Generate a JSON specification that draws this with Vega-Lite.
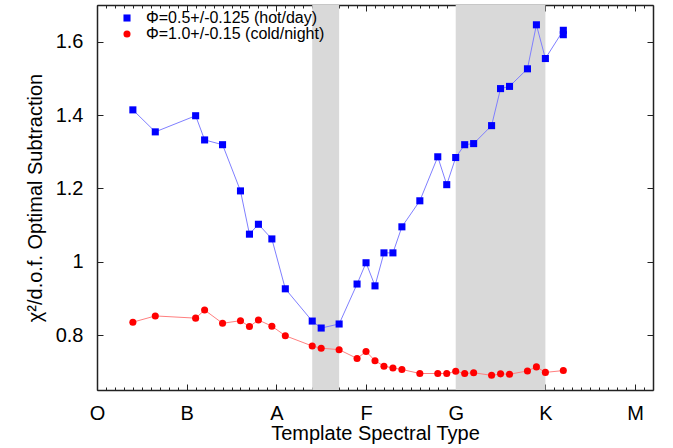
{
  "$schema": "https://vega.github.io/schema/vega-lite/v6.json",
  "width": 556,
  "height": 385,
  "autosize": "none",
  "padding": {"left": 97, "top": 5, "right": 20, "bottom": 58},
  "config": {
    "font": "Liberation Sans",
    "view": {"stroke": null},
    "axis": {"zindex": 1, "grid": false, "domainColor": "#222", "domainWidth": 1.5, "tickColor": "#222", "labelColor": "#000", "titleColor": "#000", "labelFontSize": 20, "titleFontSize": 20, "titleFontWeight": "normal", "labelFlush": false},
    "legend": {"padding": 0, "labelLimit": 400}
  },
  "datasets": {
    "bands": [
      {"start": 24, "end": 27},
      {"start": 40, "end": 50}
    ],
    "pts": [
      {"series": "hot", "type": 4, "chi": 1.414},
      {"series": "hot", "type": 6.5, "chi": 1.354},
      {"series": "hot", "type": 11, "chi": 1.398},
      {"series": "hot", "type": 12, "chi": 1.332},
      {"series": "hot", "type": 14, "chi": 1.319},
      {"series": "hot", "type": 16, "chi": 1.193},
      {"series": "hot", "type": 17, "chi": 1.075},
      {"series": "hot", "type": 18, "chi": 1.102},
      {"series": "hot", "type": 19.5, "chi": 1.062},
      {"series": "hot", "type": 21, "chi": 0.926},
      {"series": "hot", "type": 24, "chi": 0.838},
      {"series": "hot", "type": 25, "chi": 0.819},
      {"series": "hot", "type": 27, "chi": 0.830},
      {"series": "hot", "type": 29, "chi": 0.939},
      {"series": "hot", "type": 30, "chi": 0.997},
      {"series": "hot", "type": 31, "chi": 0.934},
      {"series": "hot", "type": 32, "chi": 1.024},
      {"series": "hot", "type": 33, "chi": 1.024},
      {"series": "hot", "type": 34, "chi": 1.095},
      {"series": "hot", "type": 36, "chi": 1.166},
      {"series": "hot", "type": 38, "chi": 1.286},
      {"series": "hot", "type": 39, "chi": 1.210},
      {"series": "hot", "type": 40, "chi": 1.284},
      {"series": "hot", "type": 41, "chi": 1.319},
      {"series": "hot", "type": 42, "chi": 1.322},
      {"series": "hot", "type": 44, "chi": 1.371},
      {"series": "hot", "type": 45, "chi": 1.472},
      {"series": "hot", "type": 46, "chi": 1.478},
      {"series": "hot", "type": 48, "chi": 1.526},
      {"series": "hot", "type": 49, "chi": 1.646},
      {"series": "hot", "type": 50, "chi": 1.554},
      {"series": "hot", "type": 52, "chi": 1.631},
      {"series": "hot", "type": 52, "chi": 1.619},
      {"series": "cold", "type": 4, "chi": 0.835},
      {"series": "cold", "type": 6.5, "chi": 0.852},
      {"series": "cold", "type": 11, "chi": 0.846},
      {"series": "cold", "type": 12, "chi": 0.868},
      {"series": "cold", "type": 14, "chi": 0.832},
      {"series": "cold", "type": 16, "chi": 0.839},
      {"series": "cold", "type": 17, "chi": 0.823},
      {"series": "cold", "type": 18, "chi": 0.841},
      {"series": "cold", "type": 19.5, "chi": 0.824},
      {"series": "cold", "type": 21, "chi": 0.798},
      {"series": "cold", "type": 24, "chi": 0.770},
      {"series": "cold", "type": 25, "chi": 0.764},
      {"series": "cold", "type": 27, "chi": 0.760},
      {"series": "cold", "type": 29, "chi": 0.736},
      {"series": "cold", "type": 30, "chi": 0.755},
      {"series": "cold", "type": 31, "chi": 0.730},
      {"series": "cold", "type": 32, "chi": 0.715},
      {"series": "cold", "type": 33, "chi": 0.710},
      {"series": "cold", "type": 34, "chi": 0.706},
      {"series": "cold", "type": 36, "chi": 0.695},
      {"series": "cold", "type": 38, "chi": 0.695},
      {"series": "cold", "type": 39, "chi": 0.695},
      {"series": "cold", "type": 40, "chi": 0.701},
      {"series": "cold", "type": 41, "chi": 0.695},
      {"series": "cold", "type": 42, "chi": 0.697},
      {"series": "cold", "type": 44, "chi": 0.690},
      {"series": "cold", "type": 45, "chi": 0.694},
      {"series": "cold", "type": 46, "chi": 0.693},
      {"series": "cold", "type": 48, "chi": 0.702},
      {"series": "cold", "type": 49, "chi": 0.713},
      {"series": "cold", "type": 50, "chi": 0.698},
      {"series": "cold", "type": 52, "chi": 0.703}
    ]
  },
  "layer": [
    {
      "data": {"name": "bands"},
      "mark": {"type": "rect", "color": "#d9d9d9"},
      "encoding": {
        "x": {
          "field": "start", "type": "quantitative",
          "scale": {"domain": [0, 62], "nice": false, "zero": false},
          "axis": {
            "orient": "bottom",
            "values": [0, 10, 20, 30, 40, 50, 60],
            "labelExpr": "['O','B','A','F','G','K','M'][round(datum.value/10)]",
            "tickSize": -6,
            "labelPadding": 19,
            "title": "Template Spectral Type",
            "titlePadding": 0
          }
        },
        "x2": {"field": "end"}
      }
    },
    {
      "data": {"name": "pts"},
      "transform": [{"filter": "datum.series == 'hot'"}],
      "mark": {"type": "line", "color": "#7f7fff", "strokeWidth": 1},
      "encoding": {
        "x": {
          "field": "type", "type": "quantitative",
          "scale": {"domain": [0, 62], "nice": false, "zero": false},
          "axis": {
            "orient": "bottom",
            "values": [0,1,2,3,4,5,6,7,8,9,11,12,13,14,15,16,17,18,19,21,22,23,24,25,26,27,28,29,31,32,33,34,35,36,37,38,39,41,42,43,44,45,46,47,48,49,51,52,53,54,55,56,57,58,59,61,62],
            "labels": false, "domain": false, "tickSize": -3, "title": null
          }
        },
        "y": {
          "field": "chi", "type": "quantitative",
          "scale": {"domain": [0.65, 1.7], "nice": false, "zero": false},
          "axis": {
            "orient": "left",
            "values": [0.8, 1, 1.2, 1.4, 1.6],
            "format": "~g",
            "tickSize": -6,
            "labelPadding": 20,
            "title": "χ²/d.o.f. Optimal Subtraction",
            "titlePadding": 10
          }
        }
      }
    },
    {
      "data": {"name": "pts"},
      "transform": [{"filter": "datum.series == 'cold'"}],
      "mark": {"type": "line", "color": "#ff7f7f", "strokeWidth": 1},
      "encoding": {
        "x": {
          "field": "type", "type": "quantitative",
          "scale": {"domain": [0, 62], "nice": false, "zero": false},
          "axis": {
            "orient": "top",
            "values": [0, 10, 20, 30, 40, 50, 60],
            "labels": false, "tickSize": -6, "title": null
          }
        },
        "y": {
          "field": "chi", "type": "quantitative",
          "scale": {"domain": [0.65, 1.7], "nice": false, "zero": false},
          "axis": {
            "orient": "right",
            "values": [0.8, 1, 1.2, 1.4, 1.6],
            "labels": false, "tickSize": -6, "title": null
          }
        }
      }
    },
    {
      "data": {"name": "pts"},
      "mark": {"type": "point", "filled": true, "opacity": 1, "size": 50},
      "encoding": {
        "x": {
          "field": "type", "type": "quantitative",
          "scale": {"domain": [0, 62], "nice": false, "zero": false},
          "axis": {
            "orient": "top",
            "values": [0,1,2,3,4,5,6,7,8,9,11,12,13,14,15,16,17,18,19,21,22,23,24,25,26,27,28,29,31,32,33,34,35,36,37,38,39,41,42,43,44,45,46,47,48,49,51,52,53,54,55,56,57,58,59,61,62],
            "labels": false, "domain": false, "tickSize": -3, "title": null
          }
        },
        "y": {
          "field": "chi", "type": "quantitative",
          "scale": {"domain": [0.65, 1.7], "nice": false, "zero": false},
          "axis": null
        },
        "color": {
          "field": "series", "type": "nominal",
          "scale": {"domain": ["hot", "cold"], "range": ["#0000ff", "#ff0000"]},
          "legend": {
            "title": null,
            "orient": "none",
            "legendX": 22,
            "legendY": 5,
            "labelFontSize": 16,
            "labelColor": "#000",
            "labelOffset": 11,
            "labelLimit": 400,
            "rowPadding": 0,
            "symbolSize": 50,
            "labelExpr": "datum.label == 'hot' ? 'Φ=0.5+/-0.125 (hot/day)' : 'Φ=1.0+/-0.15 (cold/night)'"
          }
        },
        "shape": {
          "field": "series", "type": "nominal",
          "scale": {"domain": ["hot", "cold"], "range": ["square", "circle"]},
          "legend": {
            "title": null,
            "orient": "none",
            "legendX": 22,
            "legendY": 5,
            "labelFontSize": 16,
            "labelColor": "#000",
            "labelOffset": 11,
            "labelLimit": 400,
            "rowPadding": 0,
            "symbolSize": 50,
            "labelExpr": "datum.label == 'hot' ? 'Φ=0.5+/-0.125 (hot/day)' : 'Φ=1.0+/-0.15 (cold/night)'"
          }
        }
      }
    }
  ],
  "resolve": {"axis": {"x": "independent", "y": "independent"}}
}
